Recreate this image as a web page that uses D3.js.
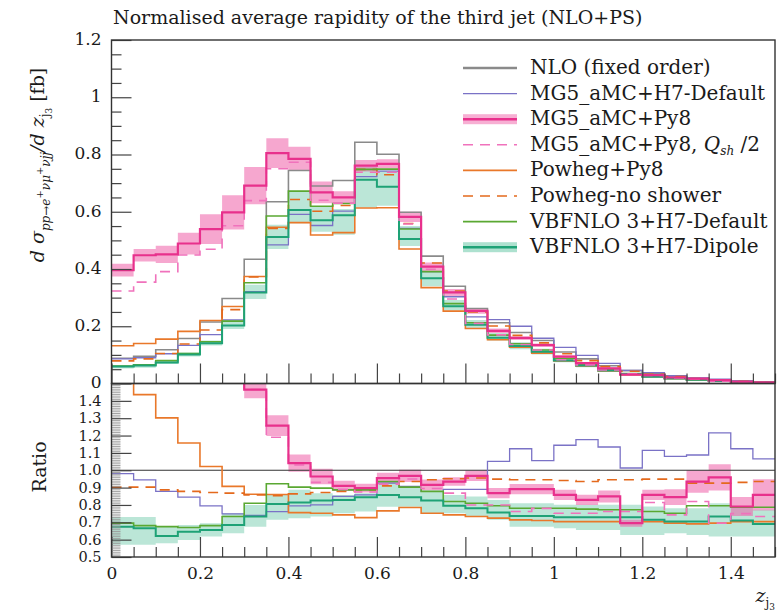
<!DOCTYPE html>
<html>
<head>
<meta charset="utf-8">
<script src="https://cdn.jsdelivr.net/npm/d3@7/dist/d3.min.js"></script>
<style>
  html, body { margin: 0; padding: 0; background: #fff; }
  svg { display: block; }
  text { font-family: "DejaVu Serif", "Liberation Serif", serif; fill: #1a1a1a; }
</style>
</head>
<body>
<svg id="chart" width="783" height="615"></svg>
<script>
// Bin edges of z_j3 (30 bins of width 0.05)
const binEdges = [0, 0.05, 0.1, 0.15, 0.2, 0.25, 0.3, 0.35, 0.4, 0.45, 0.5, 0.55, 0.6, 0.65, 0.7,
  0.75, 0.8, 0.85, 0.9, 0.95, 1.0, 1.05, 1.1, 1.15, 1.2, 1.25, 1.3, 1.35, 1.4, 1.45, 1.5];

// Main panel: normalised distributions
const nloFixed = [0.088, 0.095, 0.118, 0.157, 0.215, 0.297, 0.434, 0.635, 0.744, 0.690, 0.709, 0.843, 0.801, 0.598, 0.445,
  0.340, 0.262, 0.212, 0.178, 0.150, 0.110, 0.086, 0.062, 0.045, 0.034, 0.025, 0.018, 0.012, 0.008, 0.005];
const mg5H7 = [0.086, 0.090, 0.104, 0.133, 0.171, 0.222, 0.321, 0.484, 0.591, 0.552, 0.602, 0.723, 0.742, 0.542, 0.391,
  0.303, 0.233, 0.223, 0.200, 0.158, 0.126, 0.098, 0.070, 0.046, 0.038, 0.027, 0.020, 0.015, 0.009, 0.0053];
const mg5Py8 = [0.396, 0.448, 0.451, 0.489, 0.539, 0.598, 0.691, 0.805, 0.785, 0.668, 0.650, 0.761, 0.767, 0.582, 0.408,
  0.318, 0.254, 0.184, 0.159, 0.134, 0.094, 0.071, 0.053, 0.031, 0.029, 0.021, 0.017, 0.0115, 0.0063, 0.0043];
const mg5Py8Err = [0.022, 0.022, 0.030, 0.038, 0.052, 0.060, 0.065, 0.052, 0.042, 0.038, 0.022, 0.020, 0.016, 0.018, 0.015,
  0.012, 0.010, 0.008, 0.007, 0.006, 0.005, 0.004, 0.003, 0.002, 0.002, 0.002, 0.001, 0.001, 0.001, 0.001];
const mg5Py8Qsh = [0.323, 0.354, 0.391, 0.449, 0.469, 0.551, 0.639, 0.750, 0.773, 0.640, 0.630, 0.738, 0.738, 0.557, 0.399,
  0.295, 0.210, 0.170, 0.136, 0.117, 0.083, 0.065, 0.047, 0.034, 0.028, 0.019, 0.015, 0.0083, 0.006, 0.0037];
const powhegPy8 = [0.132, 0.140, 0.155, 0.182, 0.220, 0.269, 0.374, 0.546, 0.562, 0.519, 0.527, 0.613, 0.614, 0.470, 0.335,
  0.253, 0.192, 0.153, 0.127, 0.106, 0.079, 0.061, 0.044, 0.031, 0.024, 0.017, 0.012, 0.008, 0.006, 0.0035];
const powhegNoShower = [0.079, 0.086, 0.105, 0.138, 0.187, 0.258, 0.372, 0.542, 0.643, 0.602, 0.622, 0.748, 0.729, 0.559, 0.421,
  0.323, 0.250, 0.201, 0.168, 0.142, 0.104, 0.080, 0.059, 0.043, 0.032, 0.024, 0.017, 0.011, 0.0074, 0.0047];
const vbfnloDefault = [0.061, 0.065, 0.080, 0.105, 0.146, 0.218, 0.352, 0.585, 0.672, 0.619, 0.629, 0.748, 0.749, 0.540, 0.391,
  0.279, 0.212, 0.169, 0.139, 0.117, 0.087, 0.067, 0.048, 0.035, 0.026, 0.019, 0.014, 0.0095, 0.0063, 0.0039];
const vbfnloDipole = [0.059, 0.063, 0.073, 0.101, 0.141, 0.203, 0.318, 0.512, 0.606, 0.570, 0.588, 0.712, 0.687, 0.505, 0.368,
  0.270, 0.205, 0.160, 0.131, 0.111, 0.080, 0.063, 0.045, 0.033, 0.024, 0.0176, 0.0127, 0.0088, 0.0057, 0.0035];
const vbfnloDipoleLo = [0.052, 0.055, 0.068, 0.094, 0.133, 0.190, 0.295, 0.470, 0.560, 0.530, 0.520, 0.615, 0.621, 0.480, 0.340,
  0.255, 0.192, 0.150, 0.120, 0.101, 0.074, 0.057, 0.041, 0.028, 0.021, 0.016, 0.011, 0.0075, 0.005, 0.003];
const vbfnloDipoleHi = [0.064, 0.068, 0.080, 0.108, 0.150, 0.222, 0.345, 0.555, 0.672, 0.620, 0.610, 0.756, 0.744, 0.550, 0.390,
  0.292, 0.222, 0.176, 0.144, 0.121, 0.089, 0.070, 0.050, 0.036, 0.027, 0.020, 0.014, 0.0095, 0.0063, 0.0039];

// Ratio panel: each prediction divided by NLO (fixed order)
const ratioMg5H7 = [0.980, 0.945, 0.878, 0.845, 0.795, 0.749, 0.740, 0.762, 0.795, 0.800, 0.849, 0.858, 0.926, 0.907, 0.878,
  0.890, 0.890, 1.051, 1.124, 1.055, 1.144, 1.176, 1.134, 1.013, 1.115, 1.080, 1.088, 1.215, 1.124, 1.065];
const ratioMg5Py8 = [4.5, 4.7, 3.8, 3.1, 2.5, 2.0, 1.465, 1.257, 1.041, 0.964, 0.910, 0.897, 0.955, 0.968, 0.916,
  0.935, 0.968, 0.868, 0.891, 0.891, 0.858, 0.829, 0.849, 0.695, 0.858, 0.845, 0.935, 0.959, 0.791, 0.858];
const ratioMg5Py8Err = [0.05, 0.05, 0.05, 0.05, 0.05, 0.05, 0.050, 0.060, 0.050, 0.045, 0.030, 0.025, 0.030, 0.035, 0.030,
  0.025, 0.030, 0.030, 0.030, 0.030, 0.030, 0.030, 0.035, 0.020, 0.030, 0.045, 0.065, 0.075, 0.055, 0.090];
const ratioMg5Py8Qsh = [3.7, 3.7, 3.3, 2.9, 2.2, 1.85, 1.465, 1.190, 1.030, 0.930, 0.890, 0.875, 0.920, 0.950, 0.895,
  0.868, 0.800, 0.800, 0.762, 0.780, 0.752, 0.752, 0.762, 0.762, 0.814, 0.743, 0.820, 0.695, 0.750, 0.733];
const ratioPowhegPy8 = [1.55, 1.436, 1.302, 1.157, 1.022, 0.907, 0.862, 0.860, 0.756, 0.752, 0.743, 0.727, 0.766, 0.785, 0.752,
  0.743, 0.733, 0.724, 0.714, 0.710, 0.704, 0.704, 0.704, 0.695, 0.704, 0.695, 0.691, 0.695, 0.704, 0.704];
const ratioPowhegNoShower = [0.903, 0.903, 0.887, 0.878, 0.872, 0.868, 0.858, 0.853, 0.864, 0.872, 0.878, 0.887, 0.910, 0.935, 0.945,
  0.951, 0.955, 0.949, 0.945, 0.945, 0.941, 0.935, 0.945, 0.945, 0.949, 0.949, 0.926, 0.926, 0.930, 0.935];
const ratioVbfnloDefault = [0.695, 0.681, 0.675, 0.670, 0.681, 0.733, 0.810, 0.922, 0.903, 0.897, 0.887, 0.887, 0.935, 0.903, 0.878,
  0.820, 0.810, 0.795, 0.781, 0.781, 0.781, 0.776, 0.772, 0.772, 0.762, 0.752, 0.795, 0.795, 0.787, 0.787];
const ratioVbfnloDipole = [0.675, 0.666, 0.621, 0.646, 0.656, 0.685, 0.733, 0.806, 0.814, 0.826, 0.829, 0.845, 0.858, 0.845, 0.826,
  0.795, 0.781, 0.756, 0.737, 0.737, 0.729, 0.729, 0.729, 0.729, 0.714, 0.704, 0.704, 0.733, 0.710, 0.690];
const ratioDipoleLo = [0.570, 0.570, 0.579, 0.598, 0.618, 0.637, 0.675, 0.714, 0.723, 0.733, 0.752, 0.762, 0.790, 0.790, 0.752,
  0.752, 0.733, 0.714, 0.675, 0.675, 0.666, 0.656, 0.656, 0.627, 0.627, 0.637, 0.627, 0.618, 0.618, 0.618];
const ratioDipoleHi = [0.730, 0.730, 0.675, 0.685, 0.695, 0.752, 0.800, 0.858, 0.887, 0.868, 0.858, 0.868, 0.935, 0.897, 0.878,
  0.858, 0.849, 0.829, 0.810, 0.810, 0.801, 0.801, 0.801, 0.801, 0.791, 0.781, 0.781, 0.810, 0.791, 0.772];

// Axis tick values and labels
const xTickValues = [0, 0.2, 0.4, 0.6, 0.8, 1.0, 1.2, 1.4];
const xTickLabels = ["0", "0.2", "0.4", "0.6", "0.8", "1", "1.2", "1.4"];
const yMainTickValues = [0, 0.2, 0.4, 0.6, 0.8, 1.0, 1.2];
const yMainTickLabels = ["0", "0.2", "0.4", "0.6", "0.8", "1", "1.2"];
const yRatioTickValues = [0.5, 0.6, 0.7, 0.8, 0.9, 1.0, 1.1, 1.2, 1.3, 1.4];
const yRatioTickLabels = ["0.5", "0.6", "0.7", "0.8", "0.9", "1.0", "1.1", "1.2", "1.3", "1.4"];

const colors = {
  nlo: "#8a8a8a",
  h7: "#7a72c6",
  py8: "#e8308c",
  py8Band: "#ef5fa8",
  qsh: "#f072bc",
  powheg: "#e9782a",
  noShower: "#e4691c",
  vbfDefault: "#5aa832",
  dipole: "#1ea276",
  dipoleBand: "#5cc39f"
};

const svg = d3.select("#chart");
svg.append("rect").attr("width", 783).attr("height", 615).attr("fill", "#fff");

const L = 111.5, R = 775, T = 40, MB = 383.5, RB = 557;
const x = d3.scaleLinear().domain([0, 1.5]).range([L, R]);
const yMain = d3.scaleLinear().domain([0, 1.2]).range([MB, T]);
const yRatio = d3.scaleLinear().domain([0.5, 1.5]).range([RB, MB]);

const defs = svg.append("defs");
defs.append("clipPath").attr("id", "clipMain").append("rect")
  .attr("x", L).attr("y", T).attr("width", R - L).attr("height", MB - T);
defs.append("clipPath").attr("id", "clipRatio").append("rect")
  .attr("x", L).attr("y", MB).attr("width", R - L).attr("height", RB - MB);

function stepPoints(vals) {
  const pts = vals.map((v, i) => [binEdges[i], v]);
  pts.push([binEdges[binEdges.length - 1], vals[vals.length - 1]]);
  return pts;
}
function stepLine(y) {
  return d3.line().curve(d3.curveStepAfter).x(d => x(d[0])).y(d => y(d[1]));
}
function stepBand(y, lo, hi) {
  const pts = lo.map((v, i) => ({ e: binEdges[i], lo: v, hi: hi[i] }));
  pts.push({ e: binEdges[binEdges.length - 1], lo: lo[lo.length - 1], hi: hi[hi.length - 1] });
  return d3.area().curve(d3.curveStepAfter).x(d => x(d.e)).y0(d => y(d.lo)).y1(d => y(d.hi))(pts);
}

// ---------- main panel ----------
const gMain = svg.append("g").attr("clip-path", "url(#clipMain)");
gMain.append("path").attr("d", stepBand(yMain, vbfnloDipoleLo, vbfnloDipoleHi))
  .attr("fill", colors.dipoleBand).attr("fill-opacity", 0.42);
gMain.append("path").attr("d", stepBand(yMain, mg5Py8.map((v, i) => v - mg5Py8Err[i]), mg5Py8.map((v, i) => v + mg5Py8Err[i])))
  .attr("fill", colors.py8Band).attr("fill-opacity", 0.55);

const mainSeries = [
  { vals: nloFixed, color: colors.nlo, w: 1.6 },
  { vals: mg5H7, color: colors.h7, w: 1.3 },
  { vals: powhegPy8, color: colors.powheg, w: 1.6 },
  { vals: powhegNoShower, color: colors.noShower, w: 1.6, dash: "10,7" },
  { vals: vbfnloDefault, color: colors.vbfDefault, w: 1.6 },
  { vals: vbfnloDipole, color: colors.dipole, w: 2.0 },
  { vals: mg5Py8Qsh, color: colors.qsh, w: 1.6, dash: "10,7" },
  { vals: mg5Py8, color: colors.py8, w: 2.2 }
];
mainSeries.forEach(s => {
  gMain.append("path").attr("d", stepLine(yMain)(stepPoints(s.vals)))
    .attr("fill", "none").attr("stroke", s.color).attr("stroke-width", s.w)
    .attr("stroke-dasharray", s.dash || null);
});

// ---------- ratio panel ----------
const gRatio = svg.append("g").attr("clip-path", "url(#clipRatio)");
gRatio.append("path").attr("d", stepBand(yRatio, ratioDipoleLo, ratioDipoleHi))
  .attr("fill", colors.dipoleBand).attr("fill-opacity", 0.42);
gRatio.append("path").attr("d", stepBand(yRatio, ratioMg5Py8.map((v, i) => v - ratioMg5Py8Err[i]), ratioMg5Py8.map((v, i) => v + ratioMg5Py8Err[i])))
  .attr("fill", colors.py8Band).attr("fill-opacity", 0.55);
gRatio.append("line").attr("x1", L).attr("x2", R).attr("y1", yRatio(1)).attr("y2", yRatio(1))
  .attr("stroke", "#333").attr("stroke-width", 1.2);

const ratioSeries = [
  { vals: ratioMg5H7, color: colors.h7, w: 1.3 },
  { vals: ratioPowhegPy8, color: colors.powheg, w: 1.6 },
  { vals: ratioPowhegNoShower, color: colors.noShower, w: 1.6, dash: "10,7" },
  { vals: ratioVbfnloDefault, color: colors.vbfDefault, w: 1.6 },
  { vals: ratioVbfnloDipole, color: colors.dipole, w: 2.0 },
  { vals: ratioMg5Py8Qsh, color: colors.qsh, w: 1.6, dash: "10,7" },
  { vals: ratioMg5Py8, color: colors.py8, w: 2.2 }
];
ratioSeries.forEach(s => {
  gRatio.append("path").attr("d", stepLine(yRatio)(stepPoints(s.vals)))
    .attr("fill", "none").attr("stroke", s.color).attr("stroke-width", s.w)
    .attr("stroke-dasharray", s.dash || null);
});

// ---------- axes ----------
const tickColor = "#444";
function styleAxis(g, size) {
  g.select(".domain").remove();
  g.selectAll(".tick line").attr("stroke", tickColor).attr("stroke-width", 1.2);
  g.selectAll(".tick text").style("font-family", '"DejaVu Serif", serif').style("font-size", (size || 17) + "px").attr("fill", "#1a1a1a");
}
const minorMainY = d3.range(0, 25).map(i => i * 0.05).filter(v => Math.round(v * 100) % 20 !== 0);
svg.append("g").attr("transform", `translate(${L},0)`)
  .call(d3.axisLeft(yMain).tickValues(minorMainY).tickSize(-10).tickFormat("")).call(styleAxis);
svg.append("g").attr("transform", `translate(${L},0)`)
  .call(d3.axisLeft(yMain).tickValues(yMainTickValues).tickSize(-20).tickPadding(10)
    .tickFormat((d, i) => yMainTickLabels[i])).call(styleAxis)
  .selectAll(".tick text").attr("dy", "0.25em");

const minorX = d3.range(0, 31).map(i => i * 0.05).filter(v => Math.round(v * 100) % 20 !== 0);
[MB, RB].forEach(yb => {
  svg.append("g").attr("transform", `translate(0,${yb})`)
    .call(d3.axisBottom(x).tickValues(minorX).tickSize(-10).tickFormat("")).call(styleAxis);
});
svg.append("g").attr("transform", `translate(0,${MB})`)
  .call(d3.axisBottom(x).tickValues(xTickValues).tickSize(-20).tickFormat("")).call(styleAxis);
svg.append("g").attr("transform", `translate(0,${RB})`)
  .call(d3.axisBottom(x).tickValues(xTickValues).tickSize(-20).tickPadding(10)
    .tickFormat((d, i) => xTickLabels[i])).call(styleAxis);

const minorRatioY = d3.range(50, 151).map(i => i / 100).filter(v => Math.round(v * 100) % 10 !== 0);
svg.append("g").attr("transform", `translate(${L},0)`)
  .call(d3.axisLeft(yRatio).tickValues(minorRatioY).tickSize(-9).tickFormat("")).call(styleAxis)
  .selectAll(".tick line").attr("stroke", "#999").attr("stroke-width", 0.9);
svg.append("g").attr("transform", `translate(${L},0)`)
  .call(d3.axisLeft(yRatio).tickValues(yRatioTickValues).tickSize(-20).tickPadding(10)
    .tickFormat((d, i) => yRatioTickLabels[i])).call(g => styleAxis(g, 14.5))
  .selectAll(".tick text").attr("dy", "0.32em");

// frames
const frame = svg.append("g").attr("fill", "none").attr("stroke", "#333").attr("stroke-width", 1.4);
frame.append("rect").attr("x", L).attr("y", T).attr("width", R - L).attr("height", MB - T);
frame.append("rect").attr("x", L).attr("y", MB).attr("width", R - L).attr("height", RB - MB);

// ---------- titles ----------
svg.append("text").attr("x", 113).attr("y", 24).style("font-size", "19px")
  .text("Normalised average rapidity of the third jet (NLO+PS)");

const yLab = svg.append("text").attr("transform", "translate(44,165) rotate(-90)")
  .attr("text-anchor", "middle").style("font-size", "19px");
yLab.append("tspan").style("font-style", "italic").text("d σ");
yLab.append("tspan").attr("dy", 6).style("font-size", "12px").style("font-style", "italic").text("pp→e");
yLab.append("tspan").attr("dy", -7).style("font-size", "10px").text("+");
yLab.append("tspan").attr("dy", 7).style("font-size", "12px").style("font-style", "italic").text("νμ");
yLab.append("tspan").attr("dy", -7).style("font-size", "10px").text("+");
yLab.append("tspan").attr("dy", 7).style("font-size", "12px").style("font-style", "italic").text("νjj");
yLab.append("tspan").attr("dy", -6).style("font-style", "italic").text("/d z");
yLab.append("tspan").attr("dy", 5).style("font-size", "12px").text("j");
yLab.append("tspan").attr("dy", 3).style("font-size", "9px").text("3");
yLab.append("tspan").attr("dy", -8).text(" [fb]");

svg.append("text").attr("transform", "translate(46,467) rotate(-90)")
  .attr("text-anchor", "middle").style("font-size", "19px").text("Ratio");

const xLab = svg.append("text").attr("x", 775).attr("y", 602).attr("text-anchor", "end").style("font-size", "19px");
xLab.append("tspan").style("font-style", "italic").text("z");
xLab.append("tspan").attr("dy", 5).style("font-size", "12px").text("j");
xLab.append("tspan").attr("dy", 3).style("font-size", "9px").text("3");

// ---------- legend ----------
const legendItems = [
  { label: "NLO (fixed order)", color: colors.nlo, w: 2.5 },
  { label: "MG5_aMC+H7-Default", color: colors.h7, w: 1.3 },
  { label: "MG5_aMC+Py8", color: colors.py8, w: 2.5, band: colors.py8Band },
  { label: "MG5_aMC+Py8, Q", sub: "sh", tail: "/2", color: colors.qsh, w: 1.6, dash: "10,7" },
  { label: "Powheg+Py8", color: colors.powheg, w: 1.6 },
  { label: "Powheg-no shower", color: colors.noShower, w: 1.6, dash: "10,7" },
  { label: "VBFNLO 3+H7-Default", color: colors.vbfDefault, w: 1.6 },
  { label: "VBFNLO 3+H7-Dipole", color: colors.dipole, w: 2.5, band: colors.dipoleBand }
];
const legend = svg.append("g");
legendItems.forEach((d, i) => {
  const yy = 68 + i * 25.6;
  if (d.band) {
    legend.append("rect").attr("x", 463).attr("y", yy - 5).attr("width", 54).attr("height", 10)
      .attr("fill", d.band).attr("fill-opacity", 0.5);
  }
  legend.append("line").attr("x1", 463).attr("x2", 517).attr("y1", yy).attr("y2", yy)
    .attr("stroke", d.color).attr("stroke-width", d.w).attr("stroke-dasharray", d.dash || null);
  const t = legend.append("text").attr("x", 530).attr("y", yy + 6).style("font-size", "20px");
  if (d.sub) {
    t.append("tspan").text("MG5_aMC+Py8, ");
    t.append("tspan").style("font-style", "italic").text("Q");
    t.append("tspan").attr("dy", 4).style("font-size", "12px").style("font-style", "italic").text(d.sub);
    t.append("tspan").attr("dy", -4).text(" " + d.tail);
  } else {
    t.text(d.label);
  }
});
</script>
</body>
</html>
